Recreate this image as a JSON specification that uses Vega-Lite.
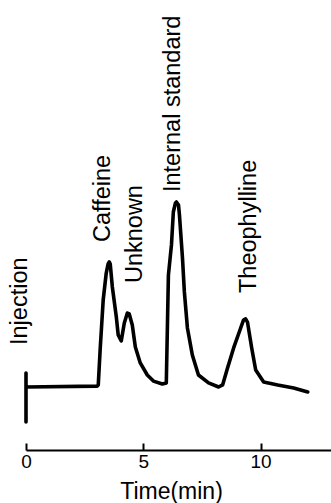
{
  "$schema": "https://vega.github.io/schema/vega-lite/v6.json",
  "width": 305,
  "height": 450,
  "autosize": {"type": "none"},
  "padding": {"left": 26, "top": 0, "right": 0, "bottom": 53},
  "background": "white",
  "config": {"view": {"stroke": null}, "font": "Liberation Sans"},
  "datasets": {
    "trace": [
      {"i": 1, "time": 0.0, "signal": -18.9},
      {"i": 2, "time": 0.0, "signal": 7.6},
      {"i": 3, "time": 0.0, "signal": 0.0},
      {"i": 4, "time": 3.03, "signal": 0.5},
      {"i": 5, "time": 3.08, "signal": 1.1},
      {"i": 6, "time": 3.16, "signal": 20.0},
      {"i": 7, "time": 3.29, "signal": 47.0},
      {"i": 8, "time": 3.42, "signal": 61.6},
      {"i": 9, "time": 3.5, "signal": 66.5},
      {"i": 10, "time": 3.55, "signal": 67.6},
      {"i": 11, "time": 3.59, "signal": 66.5},
      {"i": 12, "time": 3.68, "signal": 54.1},
      {"i": 13, "time": 3.85, "signal": 37.8},
      {"i": 14, "time": 3.93, "signal": 28.1},
      {"i": 15, "time": 4.06, "signal": 24.9},
      {"i": 16, "time": 4.19, "signal": 34.6},
      {"i": 17, "time": 4.32, "signal": 40.0},
      {"i": 18, "time": 4.4, "signal": 39.5},
      {"i": 19, "time": 4.53, "signal": 33.5},
      {"i": 20, "time": 4.66, "signal": 21.6},
      {"i": 21, "time": 4.87, "signal": 13.0},
      {"i": 22, "time": 5.17, "signal": 6.5},
      {"i": 23, "time": 5.43, "signal": 3.2},
      {"i": 24, "time": 5.81, "signal": 1.6},
      {"i": 25, "time": 5.98, "signal": 2.2},
      {"i": 26, "time": 6.07, "signal": 60.5},
      {"i": 27, "time": 6.2, "signal": 76.8},
      {"i": 28, "time": 6.28, "signal": 94.6},
      {"i": 29, "time": 6.37, "signal": 99.5},
      {"i": 30, "time": 6.41, "signal": 100.0},
      {"i": 31, "time": 6.5, "signal": 98.4},
      {"i": 32, "time": 6.54, "signal": 93.0},
      {"i": 33, "time": 6.67, "signal": 69.7},
      {"i": 34, "time": 6.75, "signal": 51.4},
      {"i": 35, "time": 6.88, "signal": 31.9},
      {"i": 36, "time": 7.09, "signal": 17.3},
      {"i": 37, "time": 7.35, "signal": 6.5},
      {"i": 38, "time": 7.78, "signal": 2.2},
      {"i": 39, "time": 8.21, "signal": 0.0},
      {"i": 40, "time": 8.38, "signal": 1.1},
      {"i": 41, "time": 8.59, "signal": 10.3},
      {"i": 42, "time": 8.85, "signal": 21.1},
      {"i": 43, "time": 9.15, "signal": 31.9},
      {"i": 44, "time": 9.27, "signal": 36.2},
      {"i": 45, "time": 9.36, "signal": 36.8},
      {"i": 46, "time": 9.44, "signal": 35.1},
      {"i": 47, "time": 9.62, "signal": 21.1},
      {"i": 48, "time": 9.79, "signal": 9.2},
      {"i": 49, "time": 10.13, "signal": 2.7},
      {"i": 50, "time": 10.73, "signal": 1.1},
      {"i": 51, "time": 11.41, "signal": -0.5},
      {"i": 52, "time": 12.01, "signal": -2.7}
    ],
    "labels": [
      {"label": "Injection", "time": -0.26, "signal": 22.7},
      {"label": "Caffeine", "time": 3.29, "signal": 78.4},
      {"label": "Unknown", "time": 4.66, "signal": 56.2},
      {"label": "Internal standard", "time": 6.28, "signal": 105.4},
      {"label": "Theophylline", "time": 9.49, "signal": 50.8}
    ]
  },
  "layer": [
    {
      "data": {"name": "trace"},
      "mark": {"type": "line", "color": "black", "strokeWidth": 3.6, "strokeCap": "round", "strokeJoin": "round", "clip": false},
      "encoding": {
        "x": {
          "field": "time", "type": "quantitative",
          "scale": {"domain": [0, 13], "nice": false, "zero": false},
          "axis": {
            "title": "Time(min)",
            "values": [0, 5, 10],
            "format": "d",
            "grid": false,
            "domainColor": "black", "domainWidth": 2,
            "tickColor": "black", "tickWidth": 2, "tickSize": -7,
            "labelFont": "Liberation Sans", "labelFontSize": 19, "labelColor": "black",
            "labelPadding": 9,
            "labelFlush": false,
            "titleFont": "Liberation Sans", "titleFontSize": 23, "titleFontWeight": "normal", "titleColor": "black",
            "titleX": 145, "titleY": 48, "titleBaseline": "alphabetic", "titleAnchor": null
          }
        },
        "y": {
          "field": "signal", "type": "quantitative",
          "scale": {"domain": [-34.05, 209.19], "nice": false, "zero": false},
          "axis": null
        },
        "order": {"field": "i", "type": "quantitative"}
      }
    },
    {
      "data": {"name": "labels"},
      "mark": {"type": "text", "angle": 270, "align": "left", "baseline": "middle", "font": "Liberation Sans", "fontSize": 23.5, "color": "black", "clip": false},
      "encoding": {
        "x": {"field": "time", "type": "quantitative"},
        "y": {"field": "signal", "type": "quantitative"},
        "text": {"field": "label", "type": "nominal"}
      }
    }
  ]
}
